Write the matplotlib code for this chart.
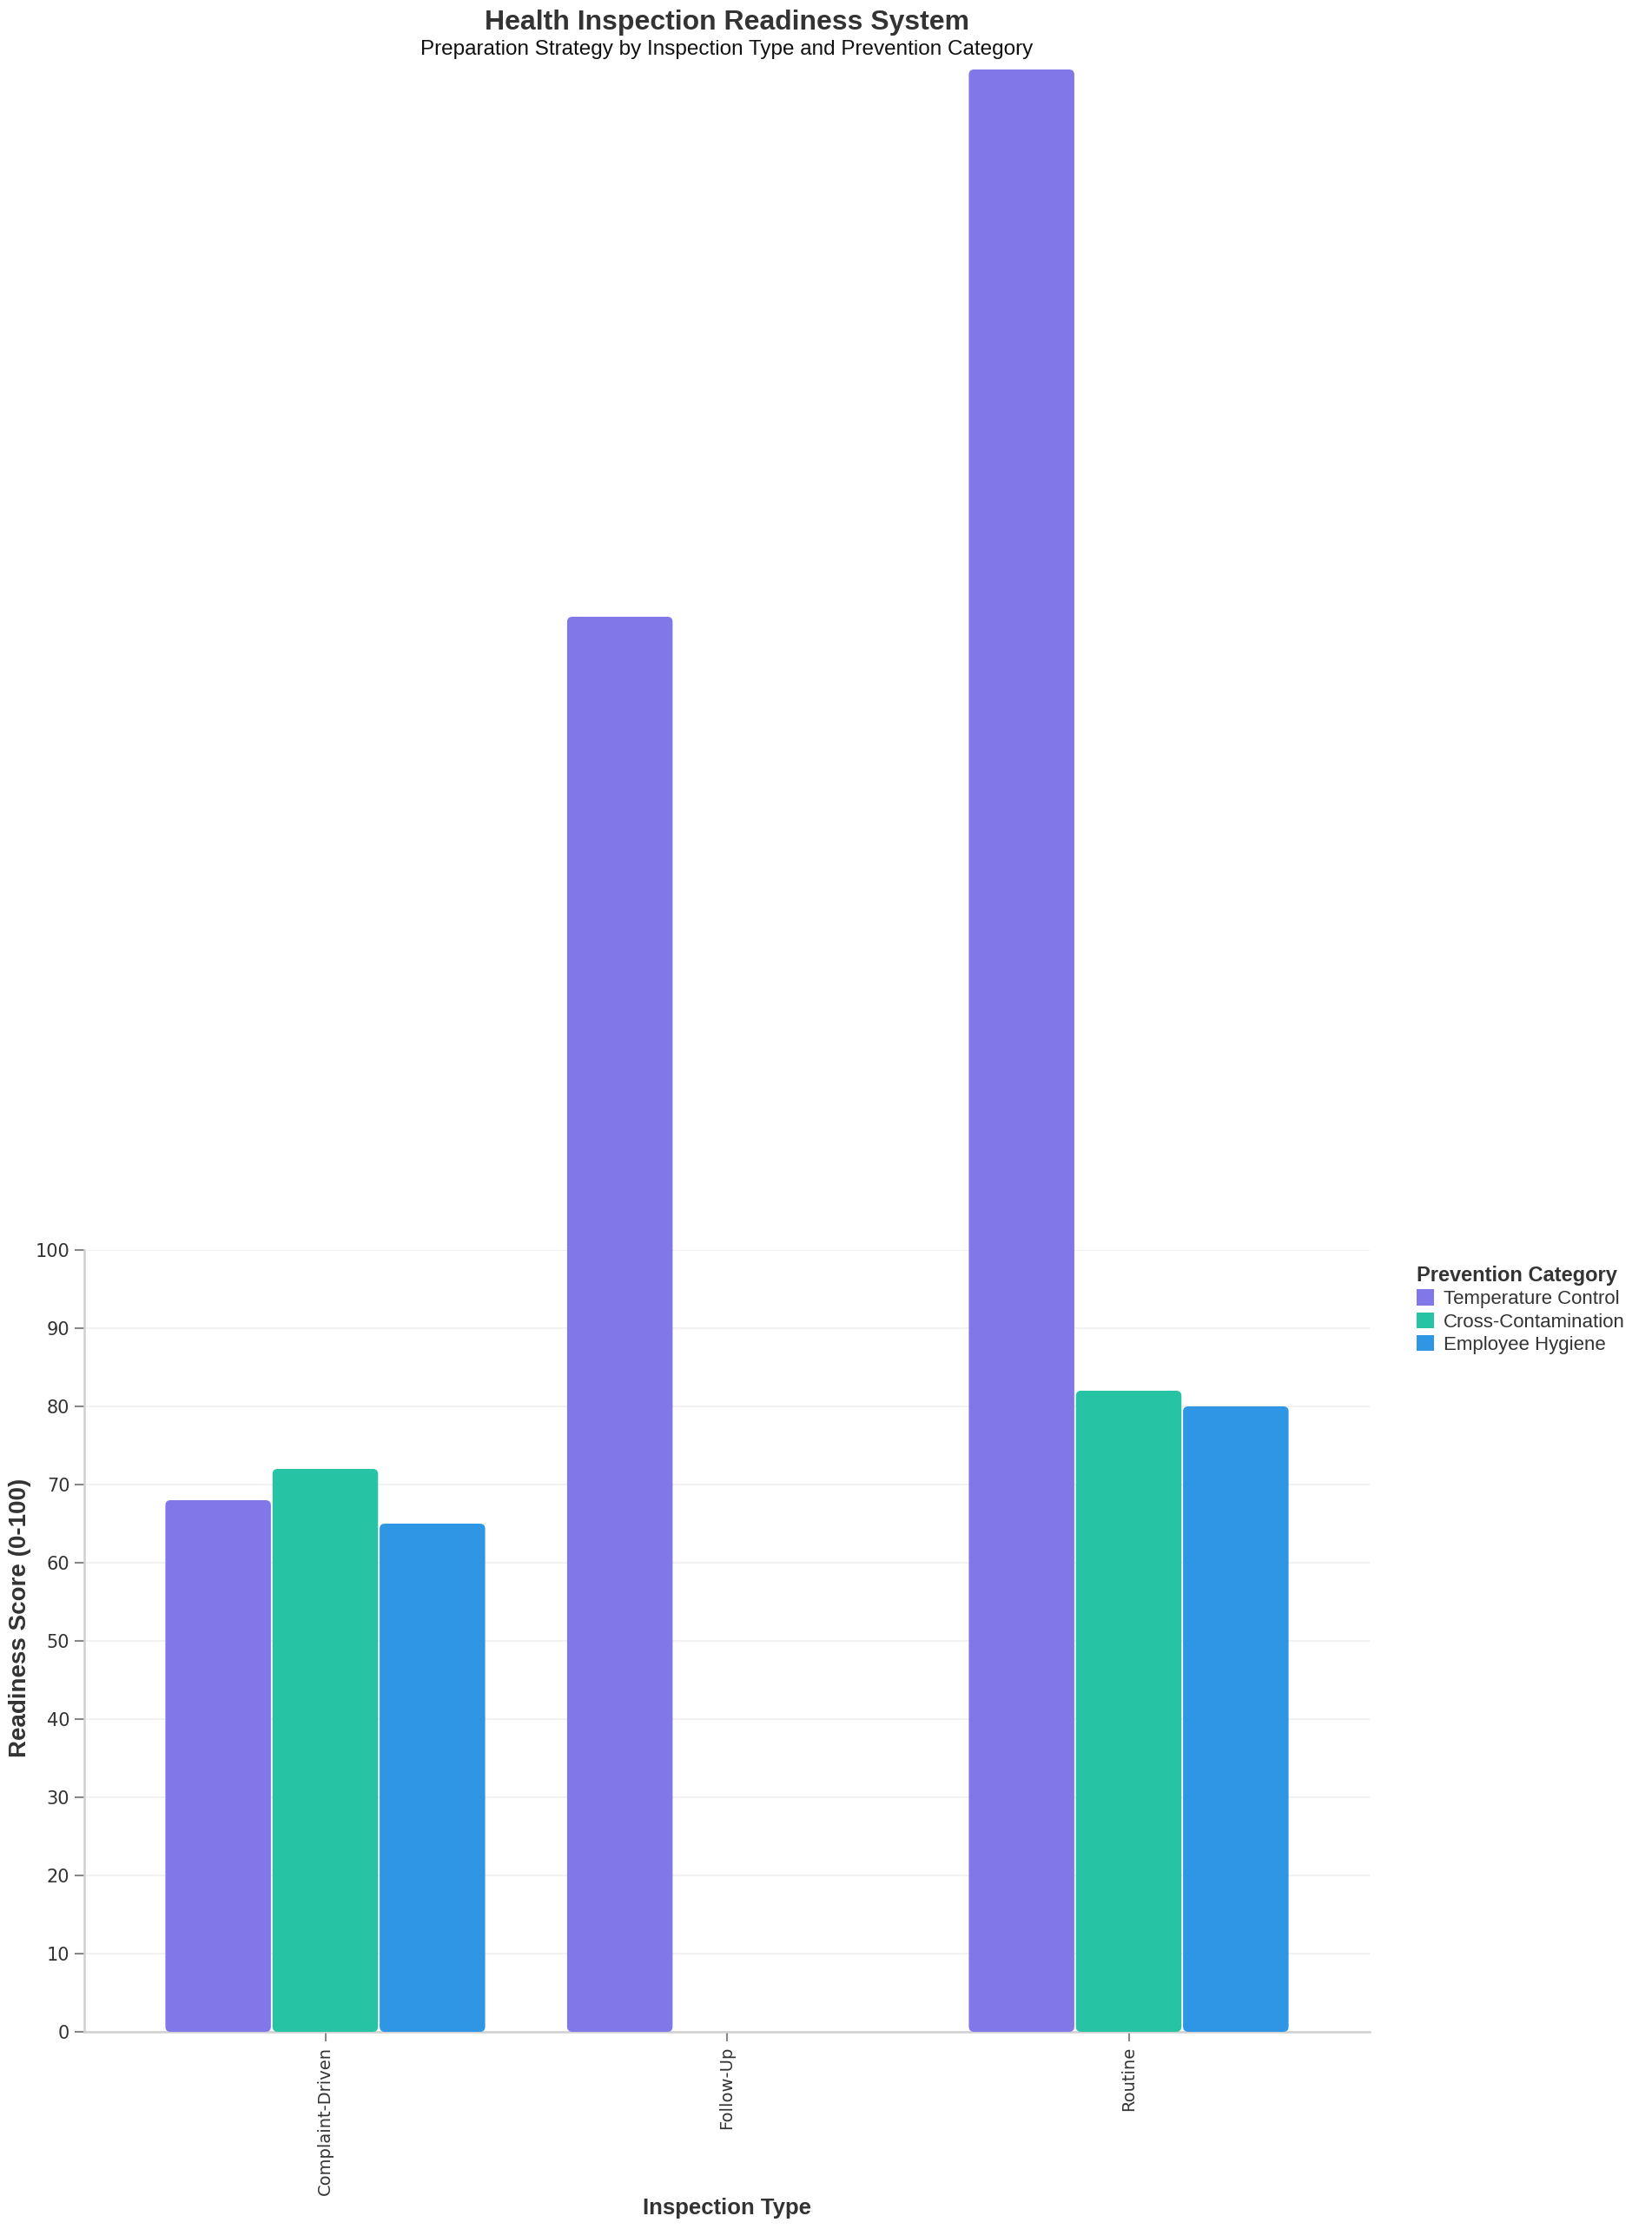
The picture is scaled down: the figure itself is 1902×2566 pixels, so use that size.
import matplotlib.pyplot as plt
import numpy as np
from matplotlib.patches import FancyBboxPatch, Patch

# data
inspection_types = ['Complaint-Driven', 'Follow-Up', 'Routine']
categories = ['Temperature Control', 'Cross-Contamination', 'Employee Hygiene']
temperature_control = [68, 181, 251]
cross_contamination = [72, np.nan, 82]
employee_hygiene = [65, np.nan, 80]
colors = ['#8277e9', '#26c4a4', '#2f96e6']

W, H = 1902, 2566
fig = plt.figure(figsize=(W / 100, H / 100), dpi=100)
ax = fig.add_axes([97 / W, 227 / H, 1480 / W, 900 / H])

x = np.arange(len(inspection_types))
bw = 0.8 / 3
series = [temperature_control, cross_contamination, employee_hygiene]

ax.set_xlim(-0.6, 2.6)
ax.set_ylim(0, 100)

# px per data unit, for the rounded corners
xpx = 1480 / 3.2
ypx = 900 / 100
r = 6 / xpx
asp = xpx / ypx

for i, vals in enumerate(series):
    bars = ax.bar(x - bw + i * bw, np.nan_to_num(vals), width=bw, color=colors[i])
    for b, v in zip(bars, vals):
        b.remove()
        if np.isnan(v) or v == 0:
            continue
        p = FancyBboxPatch((b.get_x() + 0.002, 0), b.get_width() - 0.004, v,
                           boxstyle=f"round,pad=0,rounding_size={r}",
                           mutation_aspect=asp, facecolor=colors[i],
                           edgecolor='none', clip_on=False, zorder=3)
        ax.add_patch(p)

ax.set_yticks(np.arange(0, 101, 10))
ax.grid(axis='y', color='#f0f0f0', linewidth=1.2, zorder=0)
ax.set_axisbelow(True)
for s in ['top', 'right']:
    ax.spines[s].set_visible(False)
for s in ['left', 'bottom']:
    ax.spines[s].set_color('#d0d0d0')
    ax.spines[s].set_linewidth(1.8)
ax.tick_params(axis='y', length=8, width=1.5, color='#888888', labelsize=15,
               labelcolor='#333333', pad=4)
ax.tick_params(axis='x', length=8, width=1.5, color='#888888', labelsize=14,
               labelcolor='#333333', pad=4)
ax.set_xticks(x)
ax.set_xticklabels(inspection_types, rotation=90, va='top', ha='center',
                   family='DejaVu Sans')
for t in ax.get_yticklabels():
    t.set_family('DejaVu Sans')

# titles and axis labels
fig.text(837 / W, 1 - 26 / H, 'Health Inspection Readiness System',
         ha='center', va='center', fontsize=23, fontweight='bold',
         color='#333333', family='Liberation Sans')
fig.text(837 / W, 1 - 57 / H, 'Preparation Strategy by Inspection Type and Prevention Category',
         ha='center', va='center', fontsize=17.5, color='#111111',
         family='Liberation Sans')
fig.text(23 / W, 1 - 1862 / H, 'Readiness Score (0-100)', rotation=90,
         ha='center', va='center', fontsize=20, fontweight='bold',
         color='#333333', family='Liberation Sans')
fig.text(837 / W, 1 - 2542 / H, 'Inspection Type', ha='center', va='center',
         fontsize=18.5, fontweight='bold', color='#333333', family='Liberation Sans')

# legend
handles = [Patch(facecolor=c, edgecolor='none') for c in colors]
leg = fig.legend(handles, categories, title='Prevention Category',
                 loc='upper left', bbox_to_anchor=(1622 / W, 1 - 1448 / H),
                 frameon=False, prop={'family': 'Liberation Sans', 'size': 16},
                 handlelength=0.9, handleheight=0.9, handletextpad=0.5,
                 labelspacing=0.2, alignment='left', borderaxespad=0)
leg.get_title().set_fontweight('bold')
leg.get_title().set_fontsize(17)
leg.get_title().set_family('Liberation Sans')
leg.get_title().set_color('#333333')
for t in leg.get_texts():
    t.set_color('#333333')

plt.savefig('out.png', dpi=100)
